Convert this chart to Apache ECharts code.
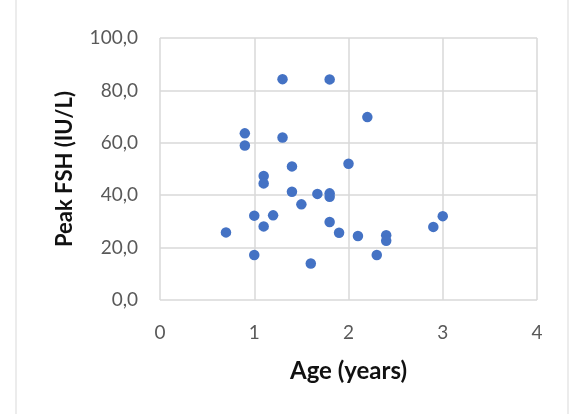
<!DOCTYPE html>
<html><head><meta charset="utf-8">
<script src="https://cdn.jsdelivr.net/npm/echarts@6/dist/echarts.min.js"></script>
<style>html,body{margin:0;padding:0;background:#fff;}#c{width:570px;height:414px;}</style>
</head><body><div id="c"></div>
<script>
const ageYears = [0.7, 1.0, 1.0, 0.9, 0.9, 1.1, 1.1, 1.1, 1.2, 1.3, 1.3, 1.4, 1.4, 1.5, 1.6, 1.67, 1.8, 1.8, 1.8, 1.8, 1.9, 2.0, 2.1, 2.2, 2.3, 2.4, 2.4, 2.9, 3.0];
const peakFSH  = [25.8, 17.2, 32.2, 63.6, 59.0, 47.3, 44.5, 28.1, 32.3, 84.3, 62.0, 51.0, 41.3, 36.5, 13.9, 40.5, 84.2, 40.7, 39.4, 29.8, 25.7, 52.0, 24.4, 69.8, 17.2, 24.7, 22.6, 27.9, 32.0];
const xTicks = [0, 1, 2, 3, 4];
const yTicks = [0, 20, 40, 60, 80, 100];
const xTitle = 'Age (years)';
const yTitle = 'Peak FSH (IU/L)';

const points = ageYears.map((a, i) => [a, peakFSH[i]]);
const chart = echarts.init(document.getElementById('c'), null, {renderer: 'canvas'});
const font = 'Lato, "Open Sans", sans-serif';
chart.setOption({
  animation: false,
  backgroundColor: '#ffffff',
  grid: {left: 160, right: 33, top: 38, bottom: 114, containLabel: false},
  graphic: [{type: 'rect', shape: {x: 16, y: -2, width: 552, height: 420}, style: {fill: 'none', stroke: '#d9d9d9', lineWidth: 1}, silent: true}],
  xAxis: {
    type: 'value', min: xTicks[0], max: xTicks[xTicks.length - 1], interval: 1,
    name: xTitle, nameLocation: 'middle', nameGap: 59,
    nameTextStyle: {fontFamily: font, fontWeight: 'bold', fontSize: 24, color: '#111'},
    axisLine: {show: false}, axisTick: {show: false},
    axisLabel: {fontFamily: font, fontSize: 19, color: '#595959', margin: 23},
    splitLine: {show: true, lineStyle: {color: '#d9d9d9', width: 1.5}}
  },
  yAxis: {
    type: 'value', min: yTicks[0], max: yTicks[yTicks.length - 1], interval: 20,
    name: yTitle, nameLocation: 'middle', nameGap: 84,
    nameTextStyle: {fontFamily: font, fontWeight: 'bold', fontSize: 22, color: '#111'},
    axisLine: {show: false}, axisTick: {show: false},
    axisLabel: {fontFamily: font, fontSize: 19, color: '#595959', margin: 22,
      formatter: v => v.toFixed(1).replace('.', ',')},
    splitLine: {show: true, lineStyle: {color: '#d9d9d9', width: 1.5}}
  },
  series: [{
    type: 'scatter', data: points, symbol: 'circle', symbolSize: 10.5,
    itemStyle: {color: '#4472c4', opacity: 1}
  }]
});
</script></body></html>
